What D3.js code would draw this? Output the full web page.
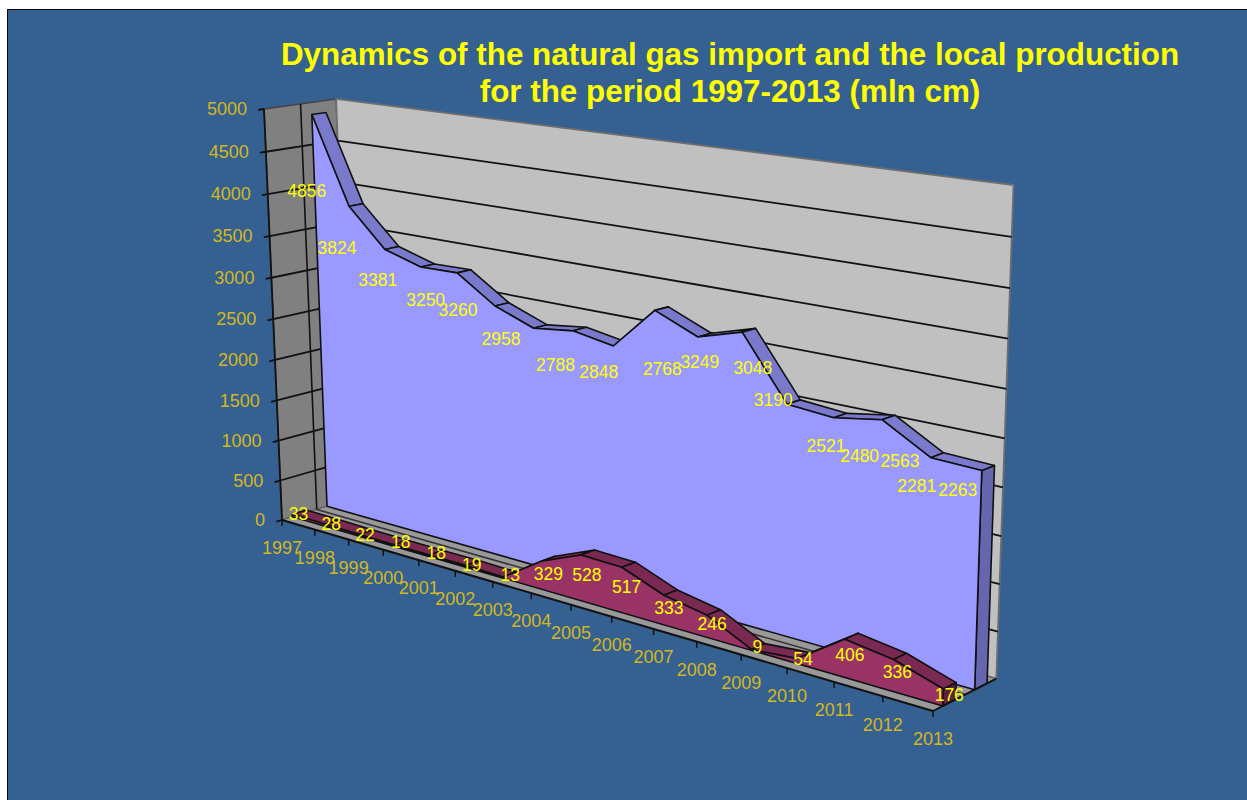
<!DOCTYPE html>
<html>
<head>
<meta charset="utf-8">
<title>Natural gas import and local production</title>
<script src="https://cdn.jsdelivr.net/npm/d3@7"></script>
<style>
  body { margin: 0; background: #fff; }
  svg { display: block; }
  text { font-family: "Liberation Sans", Arial, sans-serif; }
</style>
</head>
<body>
<svg id="chart" width="1247" height="800"></svg>
<script>
const years = ['1997', '1998', '1999', '2000', '2001', '2002', '2003', '2004', '2005',
  '2006', '2007', '2008', '2009', '2010', '2011', '2012', '2013'];
const importValues = [4856, 3824, 3381, 3250, 3260, 2958, 2788, 2848, 2768,
  3249, 3048, 3190, 2521, 2480, 2563, 2281, 2263];
const productionValues = [33, 28, 22, 18, 18, 19, 13, 329, 528,
  517, 333, 246, 9, 54, 406, 336, 176];
const titleLines = ['Dynamics of the natural gas import and the local production',
  'for the period 1997-2013 (mln cm)'];

// the original labels sit wherever Excel pushed them, so nudge each one off its point
const importNudge = [[-5, 76], [-12, 42], [-7, 30], [5, 33], [1, 37], [6, 33], [22, 37], [26, 41], [49, 23],
  [45, 51], [55, 31], [31, 68], [39, 42], [26, 38], [18, 41], [-14, 28], [-24, 19]];
const productionNudge = [[6, 0], [6, 0], [6, 0], [7, -3], [7, -2], [6, -1], [7, -2], [7, 13], [6, 20],
  [5, 20], [5, 13], [5, 9], [6, -3], [6, 0], [5, 16], [4, 12], [6, 6]];

const svg = d3.select('#chart');

const x = d3.scalePoint().domain(years).range([0, 1]);
const y = d3.scaleLinear().domain([0, 5000]).range([0, 1]);

// perspective box: pixel position of the origin and of the three axis ends, plus their weights
const cam = {
  o: [282, 520],
  x: [933, 711], wx: 0.798,
  y: [264, 109], wy: 0.957,
  z: [350.6, 499.2], wz: 1.028
};

function project(u, v, d) {
  const w = 1 + u * (cam.wx - 1) + v * (cam.wy - 1) + d * (cam.wz - 1);
  return [0, 1].map((k) =>
    (cam.o[k]
      + u * (cam.wx * cam.x[k] - cam.o[k])
      + v * (cam.wy * cam.y[k] - cam.o[k])
      + d * (cam.wz * cam.z[k] - cam.o[k])) / w
  );
}

const path = d3.line();

function face(points, fill, stroke, width) {
  svg.append('path')
    .attr('d', path(points) + 'Z')
    .attr('fill', fill)
    .attr('stroke', stroke)
    .attr('stroke-width', width)
    .attr('stroke-linejoin', 'round');
}

function seg(a, b, stroke, width) {
  svg.append('path')
    .attr('d', path([a, b]))
    .attr('fill', 'none')
    .attr('stroke', stroke)
    .attr('stroke-width', width);
}

// background panel
svg.append('rect')
  .attr('x', 7.5).attr('y', 9.5)
  .attr('width', 1245).attr('height', 796)
  .attr('fill', '#356092')
  .attr('stroke', '#000');

// walls and floor
face([project(0, 0, 0), project(0, 1, 0), project(0, 1, 1), project(0, 0, 1)], '#808080', '#444', 1.4);
face([project(0, 0, 1), project(0, 1, 1), project(1, 1, 1), project(1, 0, 1)], '#c0c0c0', '#6e6e6e', 1.8);
face([project(0, 0, 0), project(1, 0, 0), project(1, 0, 1), project(0, 0, 1)], '#999', '#666', 1.2);

// gridlines
const valueTicks = y.ticks(10);
valueTicks.filter((t) => t > 0 && t < 5000).forEach((t) => {
  seg(project(0, y(t), 1), project(1, y(t), 1), '#111', 1.8);
});
valueTicks.filter((t) => t > 0 && t < 5000).forEach((t) => {
  seg(project(0, y(t), 0), project(0, y(t), 1), '#111', 1.8);
});
seg(project(0, 0, 0.5), project(0, 1, 0.5), '#111', 1.6);
seg(project(0, 0, 0.5), project(1, 0, 0.5), '#333', 1.5);

// one area ribbon: right end cap, top strips, then the front face on top
function drawArea(values, zFront, zBack, frontFill, topFill, endFill) {
  const last = years[years.length - 1];
  const lastY = y(values[values.length - 1]);
  face([project(1, 0, zFront), project(1, lastY, zFront), project(1, lastY, zBack), project(1, 0, zBack)],
    endFill, '#111', 1.6);

  d3.pairs(years.map((yr, i) => [x(yr), y(values[i])])).forEach(([a, b]) => {
    face([project(a[0], a[1], zFront), project(b[0], b[1], zFront),
      project(b[0], b[1], zBack), project(a[0], a[1], zBack)], topFill, '#111', 1.6);
  });

  const front = years.map((yr, i) => project(x(yr), y(values[i]), zFront));
  face([project(0, 0, zFront), ...front, project(x(last), 0, zFront)], frontFill, '#111', 1.6);
}

drawArea(importValues, 0.65, 0.85, '#9999ff', '#7a7acc', '#6666ae');
drawArea(productionValues, 0.15, 0.35, '#993366', '#7a2952', '#5c1f3d');

// axes
seg(project(0, 0, 0), project(0, 1, 0), '#111', 1.8);
seg(project(0, 0, 0), project(1, 0, 0), '#111', 2);
seg(project(1, 0, 0), project(1, 0, 1), '#111', 1.8);

const axisColor = '#d2b81e';

valueTicks.forEach((t) => {
  const p = project(0, y(t), 0);
  seg(p, project(0, y(t), -0.08), '#111', 1.8);
  svg.append('text')
    .attr('x', p[0] - 17)
    .attr('y', p[1])
    .attr('dy', '0.35em')
    .attr('text-anchor', 'end')
    .attr('font-size', 18)
    .attr('fill', axisColor)
    .text(t);
});

years.forEach((yr) => {
  const p = project(x(yr), 0, 0);
  seg(p, [p[0], p[1] + 6], '#111', 1.5);
  svg.append('text')
    .attr('x', p[0])
    .attr('y', p[1] + 28)
    .attr('dy', '0.35em')
    .attr('text-anchor', 'middle')
    .attr('font-size', 18)
    .attr('fill', axisColor)
    .text(yr);
});

// data labels
function drawLabels(values, zFront, nudge) {
  values.forEach((v, i) => {
    const p = project(x(years[i]), y(v), zFront);
    svg.append('text')
      .attr('x', p[0] + nudge[i][0])
      .attr('y', p[1] + nudge[i][1])
      .attr('dy', '0.35em')
      .attr('text-anchor', 'middle')
      .attr('font-size', 17.5)
      .attr('fill', '#ffff00')
      .text(v);
  });
}

drawLabels(importValues, 0.65, importNudge);
drawLabels(productionValues, 0.15, productionNudge);

// title
titleLines.forEach((line, i) => {
  svg.append('text')
    .attr('x', 730)
    .attr('y', 54 + i * 37)
    .attr('dy', '0.35em')
    .attr('text-anchor', 'middle')
    .attr('font-size', 31.4)
    .attr('font-weight', 'bold')
    .attr('fill', '#ffff00')
    .text(line);
});
</script>
</body>
</html>
